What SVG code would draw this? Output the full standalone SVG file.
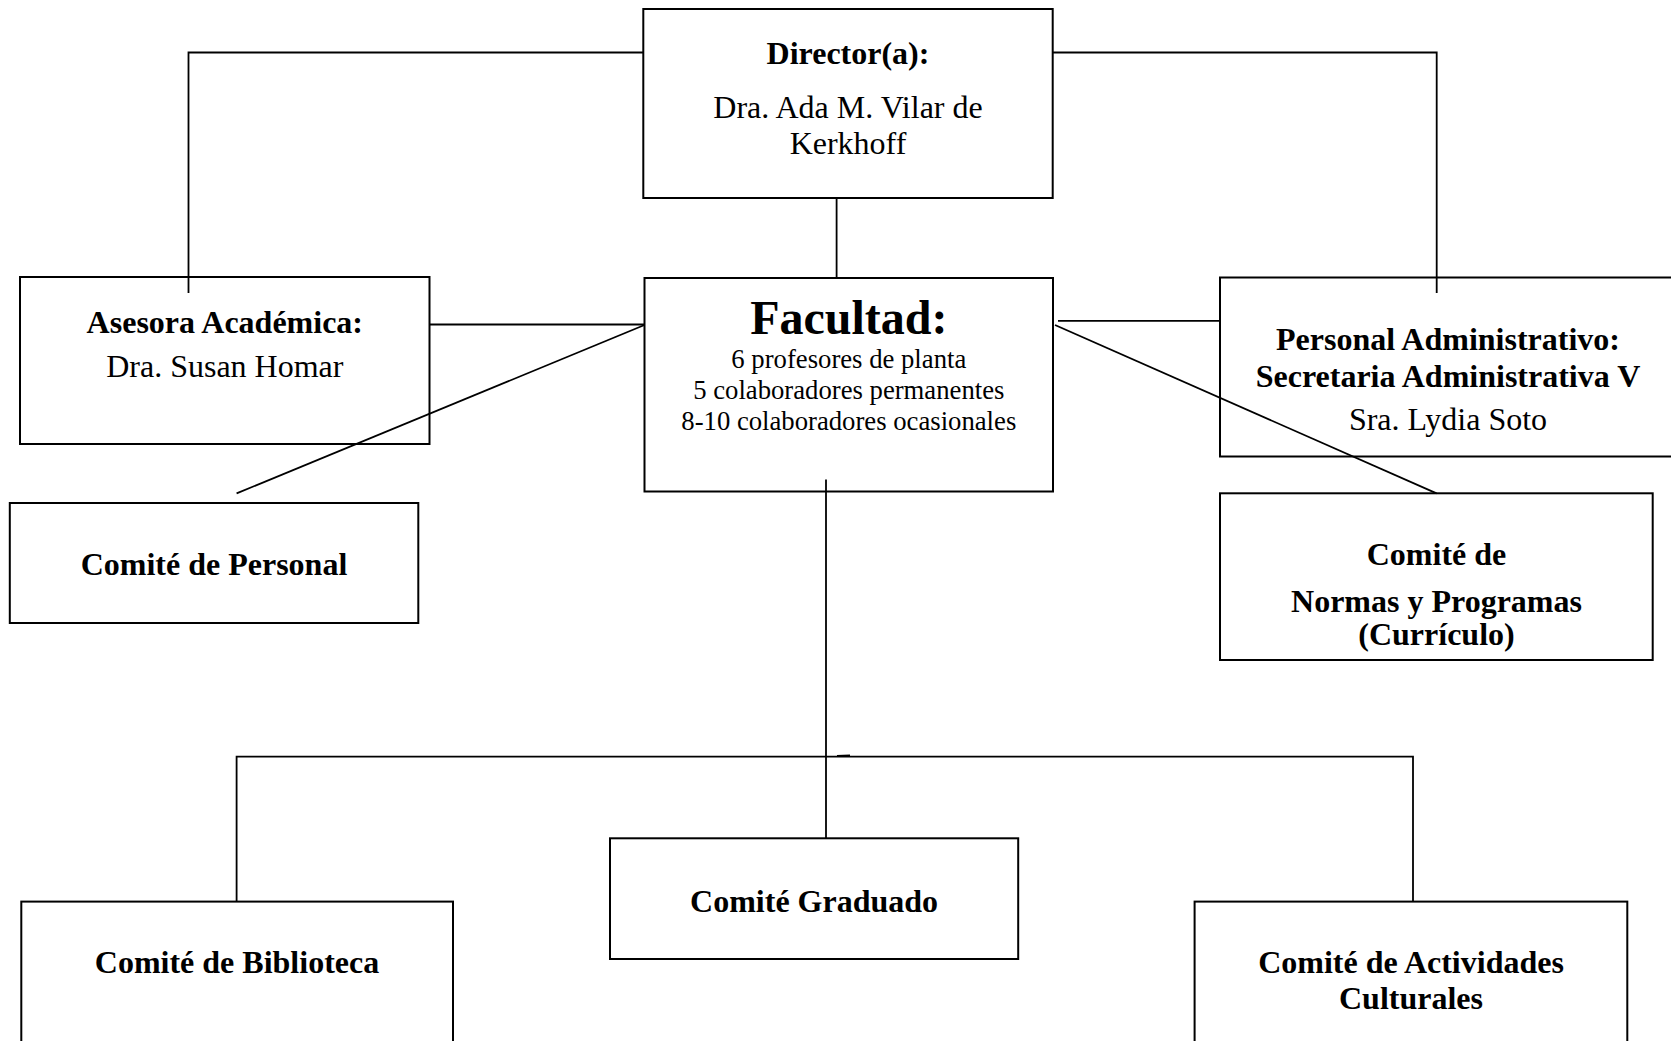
<svg xmlns="http://www.w3.org/2000/svg" width="1671" height="1041" viewBox="0 0 1671 1041">
<style>
.box{fill:#fff;stroke:#000;stroke-width:2}
.ln{fill:none;stroke:#000;stroke-width:1.8}
text{font-family:"Liberation Serif","Times New Roman",serif;fill:#000;text-anchor:middle}
.b{font-weight:bold;font-size:32px}
.r{font-size:32px}
.s{font-size:26.7px}
.big{font-weight:bold;font-size:48px}
</style>
<rect width="1671" height="1041" fill="#fff"/>
<g id="director">
<rect class="box" x="643.3" y="9" width="409.4" height="189"/>
<text class="b" x="848" y="64">Director(a):</text>
<text class="r" x="848" y="117.5">Dra. Ada M. Vilar de</text>
<text class="r" x="848" y="153.5">Kerkhoff</text>
</g>
<g id="asesora">
<rect class="box" x="20" y="277" width="409.5" height="167"/>
<text class="b" x="224.8" y="333">Asesora Académica:</text>
<text class="r" x="224.8" y="377">Dra. Susan Homar</text>
</g>
<g id="facultad">
<rect class="box" x="644.5" y="278" width="408.5" height="213.5"/>
<text class="big" x="848.8" y="333.6">Facultad:</text>
<text class="s" x="848.8" y="367.7">6 profesores de planta</text>
<text class="s" x="848.8" y="398.6">5 colaboradores permanentes</text>
<text class="s" x="848.8" y="429.5">8-10 colaboradores ocasionales</text>
</g>
<g id="personal-administrativo">
<rect class="box" x="1220" y="277.5" width="458" height="179"/>
<text class="b" x="1448" y="350">Personal Administrativo:</text>
<text class="b" x="1448" y="386.7">Secretaria Administrativa V</text>
<text class="r" x="1448" y="430">Sra. Lydia Soto</text>
</g>
<g id="comite-personal">
<rect class="box" x="9.8" y="503" width="408.5" height="120"/>
<text class="b" x="214" y="575">Comité de Personal</text>
</g>
<g id="comite-normas">
<rect class="box" x="1220" y="493.3" width="432.7" height="166.7"/>
<text class="b" x="1436.5" y="565">Comité de</text>
<text class="b" x="1436.5" y="611.5">Normas y Programas</text>
<text class="b" x="1436.5" y="645">(Currículo)</text>
</g>
<g id="comite-graduado">
<rect class="box" x="610" y="838.3" width="408.2" height="120.7"/>
<text class="b" x="814.1" y="911.5">Comité Graduado</text>
</g>
<g id="comite-biblioteca">
<rect class="box" x="21.3" y="901.6" width="431.7" height="160"/>
<text class="b" x="237" y="973">Comité de Biblioteca</text>
</g>
<g id="comite-actividades">
<rect class="box" x="1194.6" y="901.6" width="432.7" height="160"/>
<text class="b" x="1411" y="973">Comité de Actividades</text>
<text class="b" x="1411" y="1009">Culturales</text>
</g>
<g id="connectors">
<polyline class="ln" points="643,52.5 188.5,52.5 188.5,293"/>
<polyline class="ln" points="1053,52.5 1436.7,52.5 1436.7,293"/>
<line class="ln" x1="836.6" y1="198" x2="836.6" y2="278"/>
<line class="ln" x1="429.5" y1="324.5" x2="644.5" y2="324.5"/>
<line class="ln" x1="644.5" y1="325" x2="236.6" y2="493.4"/>
<line class="ln" x1="1058" y1="320.8" x2="1219" y2="320.8"/>
<line class="ln" x1="1055" y1="325" x2="1436.6" y2="493.4"/>
<line class="ln" x1="826" y1="479.6" x2="826" y2="838.3"/>
<polyline class="ln" points="236.6,901.6 236.6,756.7 1413,756.7 1413,901.6"/>
<line class="ln" x1="837" y1="755.8" x2="850" y2="755.3"/>
</g>
</svg>
